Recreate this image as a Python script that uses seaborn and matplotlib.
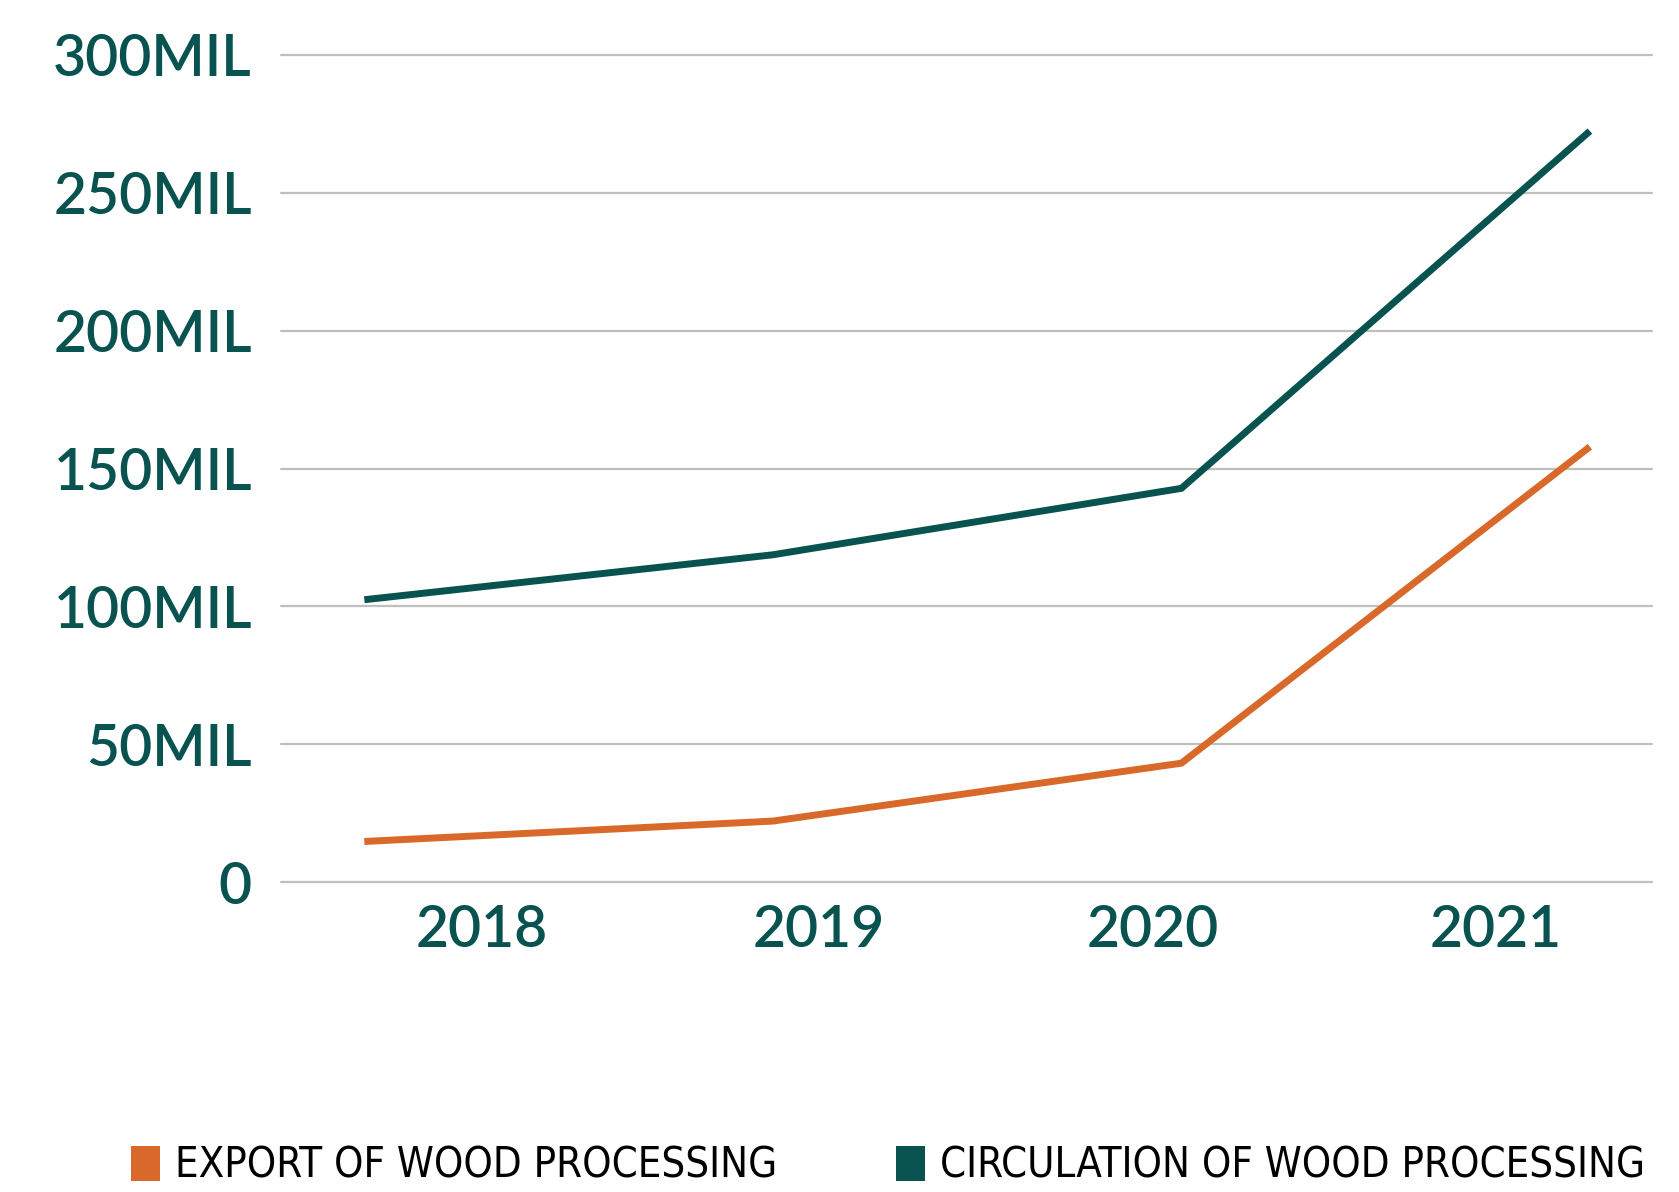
import pandas as pd
import matplotlib
matplotlib.use("Agg")
import matplotlib.pyplot as plt
from matplotlib.patches import Patch
import seaborn as sns

# Data (millions)
years = ["2018", "2019", "2020", "2021"]
export_vals = [14.7, 22.1, 43.1, 157.9]
circulation_vals = [102.4, 118.7, 142.8, 272.4]
y_ticks = [0, 50, 100, 150, 200, 250, 300]
y_labels = ["0", "50MIL", "100MIL", "150MIL", "200MIL", "250MIL", "300MIL"]
# year labels sit a bit off the data points in the original
year_label_pos = [0.288, 1.113, 1.931, 2.769]

series_names = ["EXPORT OF WOOD PROCESSING", "CIRCULATION OF WOOD PROCESSING"]
teal = "#08524F"
orange = "#D9692A"

df = pd.DataFrame({
    "idx": list(range(len(years))) * 2,
    "value": export_vals + circulation_vals,
    "series": [series_names[0]] * len(years) + [series_names[1]] * len(years),
})

sns.set_style("white")
plt.rcParams["font.family"] = ["Lato", "DejaVu Sans"]

fig = plt.figure(figsize=(16.79, 11.92), dpi=100)
ax = fig.add_axes([281 / 1679, 1 - 882 / 1192, (1652 - 281) / 1679, (882 - 55) / 1192])

sns.lineplot(data=df, x="idx", y="value", hue="series",
             palette={series_names[0]: orange, series_names[1]: teal},
             linewidth=5, legend=False, ax=ax, zorder=3)
for ln in ax.get_lines():
    ln.set_solid_capstyle("butt")
    ln.set_solid_joinstyle("miter")

ax.set_xlim(-0.204, 3.152)
ax.set_ylim(0, 300)
ax.set_yticks(y_ticks)
ax.set_yticklabels(y_labels, fontweight="semibold")
ax.set_xticks(year_label_pos)
ax.set_xticklabels(years, fontweight="semibold")
ax.tick_params(axis="y", length=0, pad=21, labelsize=41, labelcolor=teal)
ax.tick_params(axis="x", length=0, pad=16, labelsize=41, labelcolor=teal)
ax.grid(axis="y", color="#BFBFBF", linewidth=1.6)
ax.grid(axis="x", visible=False)
for gl in ax.get_ygridlines():
    gl.set_clip_on(False)
for s in ax.spines.values():
    s.set_visible(False)
ax.set_xlabel("")
ax.set_ylabel("")

handles = [Patch(facecolor=orange, edgecolor="none"), Patch(facecolor=teal, edgecolor="none")]
leg = fig.legend(handles, series_names, loc="center left",
                 bbox_to_anchor=(131 / 1679, 1 - 1166 / 1192), ncol=2, frameon=False,
                 handlelength=0.7, handleheight=0.9, handletextpad=0.35, columnspacing=2.85,
                 borderaxespad=0, borderpad=0,
                 prop={"family": "DejaVu Sans", "stretch": "condensed", "size": 30})
for t in leg.get_texts():
    t.set_color("black")

fig.savefig("out.png", dpi=100)
